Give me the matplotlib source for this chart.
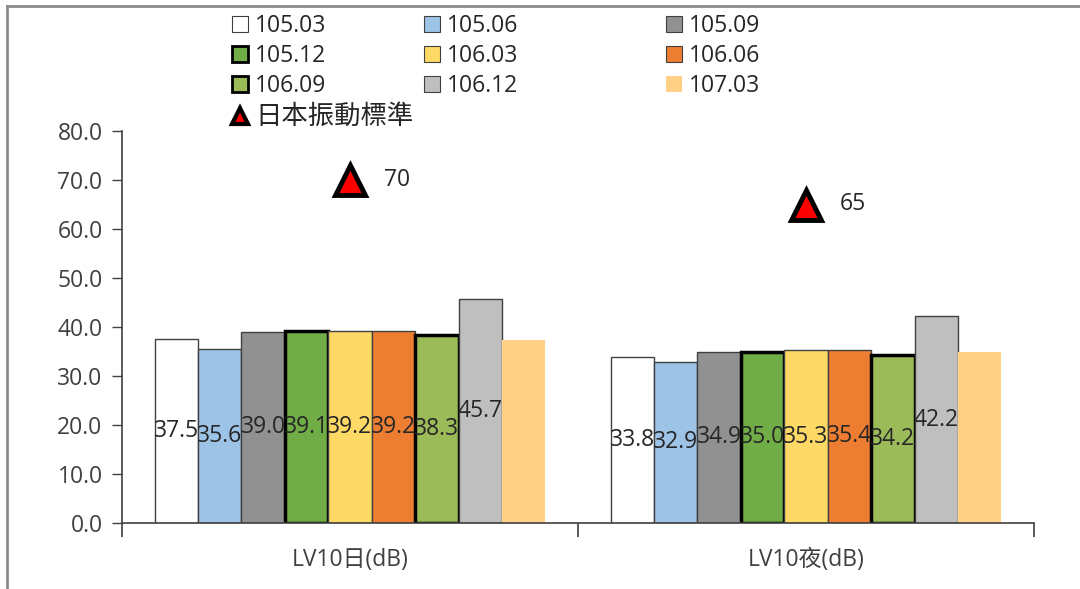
import numpy as np
import matplotlib.pyplot as plt
from matplotlib.patches import Patch
from matplotlib.lines import Line2D

plt.rcParams['font.family'] = ['Open Sans', 'Noto Sans CJK TC', 'DejaVu Sans']

categories = ['LV10日(dB)', 'LV10夜(dB)']
series = ['105.03', '105.06', '105.09', '105.12', '106.03', '106.06', '106.09', '106.12', '107.03']
values = [
    [37.5, 33.8],
    [35.6, 32.9],
    [39.0, 34.9],
    [39.1, 35.0],
    [39.2, 35.3],
    [39.2, 35.4],
    [38.3, 34.2],
    [45.7, 42.2],
    [37.4, 34.9],
]
show_label = [True] * 8 + [False]
standard = [70, 65]
standard_name = '日本振動標準'

colors = ['#FFFFFF', '#9DC3E6', '#919191', '#70AD47', '#FFD966',
          '#ED7D31', '#9BBB59', '#BFBFBF', '#FFD086']
edges = ['#404040', '#404040', '#404040', '#000000', '#404040',
         '#404040', '#000000', '#404040', 'none']
widths = [1, 1, 1, 2.5, 1, 1, 2.5, 1, 0]
fs = 16.5

fig = plt.figure(figsize=(10.8, 5.89), dpi=100)
ax = fig.add_axes([122/1080, 1-523/589, (1034-122)/1080, (523-131)/589])

n = len(series)
w = 1 / (n + 1.5)
x = np.arange(len(categories))
handles = []
for j in range(n):
    pos = x + (j - (n - 1) / 2) * w
    ax.bar(pos, values[j], w, color=colors[j], edgecolor=edges[j],
           linewidth=widths[j], zorder=2)
    if show_label[j]:
        for p, v in zip(pos, values[j]):
            ax.text(p, v / 2, f'{v:.1f}', ha='center', va='center',
                    fontsize=fs, color='#262626', zorder=5)
    handles.append(Patch(facecolor=colors[j], edgecolor=edges[j], linewidth=widths[j] * 0.8))

ax.plot(x, standard, linestyle='none', marker='^', markersize=22,
        markerfacecolor='#FF0000', markeredgecolor='black', markeredgewidth=3.5,
        zorder=6)
for xi, s in zip(x, standard):
    ax.text(xi + 0.075, s, str(s), ha='left', va='center', fontsize=fs, color='#262626')

ax.set_xlim(-0.5, 1.5)
ax.set_ylim(0, 80)
ax.set_yticks(np.arange(0, 81, 10))
ax.set_yticklabels([f'{t:.1f}' for t in np.arange(0, 81, 10)], fontsize=fs, color='#404040')
ax.set_xticks(x)
ax.set_xticklabels(categories, fontsize=fs, color='#404040')
ax.tick_params(axis='x', length=0, pad=18)
ax.set_xticks([-0.5, 0.5, 1.5], minor=True)
ax.tick_params(axis='x', which='minor', length=10, width=1.2, color='#404040', direction='out')
ax.tick_params(axis='y', length=7, width=1, color='#404040', direction='out', pad=7)
for side in ['top', 'right']:
    ax.spines[side].set_visible(False)
for side in ['left', 'bottom']:
    ax.spines[side].set_color('#404040')
    ax.spines[side].set_linewidth(1.2)

# legend drawn as three columns to match the uneven spacing
tri = Line2D([], [], linestyle='none', marker='^', markersize=11,
             markerfacecolor='#FF0000', markeredgecolor='black', markeredgewidth=3)
cols = [
    ([handles[0], handles[3], handles[6], tri], [series[0], series[3], series[6], standard_name], 232),
    ([handles[1], handles[4], handles[7]], [series[1], series[4], series[7]], 424),
    ([handles[2], handles[5], handles[8]], [series[2], series[5], series[8]], 666),
]
for i, (hs, ls, px) in enumerate(cols):
    leg = fig.legend(hs, ls, loc='upper left', bbox_to_anchor=(px / 1080, 1 - 14 / 589),
                     frameon=False, fontsize=fs, handlelength=0.7, handleheight=0.7,
                     handletextpad=0.3, labelspacing=0.27, borderpad=0, borderaxespad=0,
                     labelcolor='#262626')
    if i == 0:
        leg.get_texts()[3].set_fontsize(19)

# outer frame (left and top edges visible)
fig.add_artist(Line2D([7/1080, 7/1080], [0, 1 - 6/589], color='#8C8C8C', linewidth=2))
fig.add_artist(Line2D([7/1080, 1], [1 - 6/589, 1 - 6/589], color='#8C8C8C', linewidth=2))

fig.savefig('out.png', dpi=100)
